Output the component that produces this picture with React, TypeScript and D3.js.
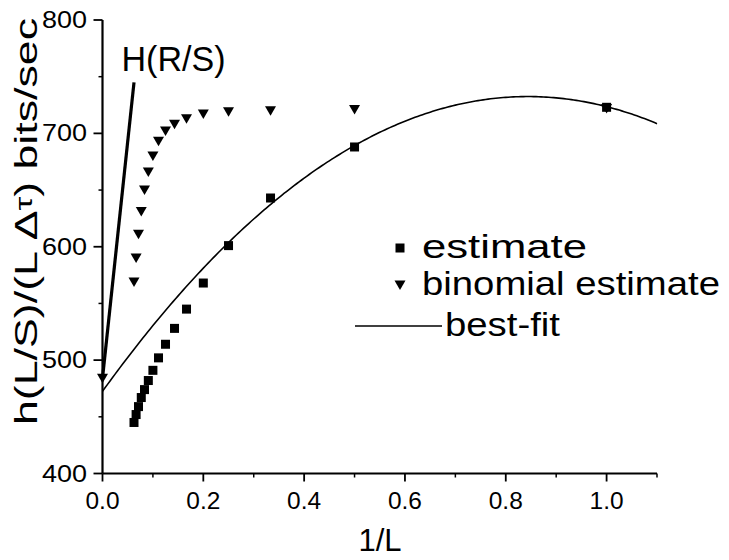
import React from "react";
import * as d3 from "d3";

// Block lengths L; points are plotted against 1/L
const blockLengths = [1, 2, 3, 4, 5, 6, 7, 8, 9, 10, 11, 12, 13, 14, 15, 16];
// Entropy-rate estimates, bits/sec
const estimate = [723, 688, 643, 601, 568, 545, 528, 514, 502, 491, 482, 474, 467, 459, 452, 445];
const binomialEstimate = [722, 721, 720, 719, 717, 713, 708, 702, 693, 680, 666, 650, 631, 611, 590, 569];
// Extrapolated binomial value at 1/L = 0
const binomialLimitX = [0];
const binomialLimitY = [484];
// H(R/S) reference line
const hrsX = [0, 0.0625];
const hrsY = [484, 745];
// Quadratic best fit: c0 + c1*x + c2*x^2
const fitCoefficients = [472.5, 616.0, -364.9];

const xMajorTicks = [0, 0.2, 0.4, 0.6, 0.8, 1.0];
const xMinorTicks = [0.1, 0.3, 0.5, 0.7, 0.9, 1.1];
const yMajorTicks = [400, 500, 600, 700, 800];
const yMinorTicks = [450, 550, 650, 750];

const FONT = "'Liberation Sans', Arial, Helvetica, sans-serif";

export default function App() {
  const W = 729;
  const H = 560;
  const x = d3.scaleLinear().domain([0, 1.1]).range([102.5, 657]);
  const y = d3.scaleLinear().domain([400, 800]).range([473.5, 20]);

  const fitX = d3.range(0, 1.1001, 0.005);
  const fitLine = d3
    .line<number>()
    .x((d) => x(d))
    .y((d) => y(fitCoefficients[0] + fitCoefficients[1] * d + fitCoefficients[2] * d * d));

  const hrsLine = d3
    .line<number>()
    .x((d, i) => x(hrsX[i]))
    .y((d) => y(d));

  const fmtX = d3.format(".1f");
  const fmtY = d3.format("d");

  const tri = "M-5.5,-4.5 L5.5,-4.5 L0,5 Z";
  const sq = 9;

  const triPoints = [
    ...blockLengths.map((L, i) => ({ x: 1 / L, v: binomialEstimate[i] })),
    ...binomialLimitX.map((v, i) => ({ x: v, v: binomialLimitY[i] })),
  ];

  return (
    <svg
      width={W}
      height={H}
      viewBox={`0 0 ${W} ${H}`}
      style={{ position: "absolute", left: 0, top: 0, display: "block", background: "#fff" }}
      fontFamily={FONT}
    >
      <rect x={0} y={0} width={W} height={H} fill="#fff" />

      {/* best-fit curve */}
      <path d={fitLine(fitX) || ""} fill="none" stroke="#000" strokeWidth={1.6} />

      {/* H(R/S) line */}
      <path d={hrsLine(hrsY) || ""} fill="none" stroke="#000" strokeWidth={3.2} />
      <text x={121.5} y={71} fontSize={35} textLength={104} lengthAdjust="spacingAndGlyphs" fill="#000">
        H(R/S)
      </text>

      {/* estimate squares */}
      {blockLengths.map((L, i) => (
        <rect
          key={`s${i}`}
          x={x(1 / L) - sq / 2}
          y={y(estimate[i]) - sq / 2}
          width={sq}
          height={sq}
          fill="#000"
        />
      ))}

      {/* binomial estimate triangles */}
      {triPoints.map((p, i) => (
        <path key={`t${i}`} d={tri} transform={`translate(${x(p.x)},${y(p.v)})`} fill="#000" />
      ))}

      {/* axes */}
      <line x1={x(0)} x2={x(1.1)} y1={y(400)} y2={y(400)} stroke="#000" strokeWidth={2.2} />
      <line x1={x(0)} x2={x(0)} y1={y(400)} y2={y(800)} stroke="#000" strokeWidth={2.2} />

      {xMajorTicks.map((t) => (
        <g key={`xm${t}`}>
          <line x1={x(t)} x2={x(t)} y1={y(400)} y2={y(400) + 8} stroke="#000" strokeWidth={1.8} />
          <text
            x={x(t)}
            y={509}
            fontSize={23}
            textAnchor="middle"
            textLength={34}
            lengthAdjust="spacingAndGlyphs"
            fill="#000"
          >
            {fmtX(t)}
          </text>
        </g>
      ))}
      {xMinorTicks.map((t) => (
        <line key={`xn${t}`} x1={x(t)} x2={x(t)} y1={y(400)} y2={y(400) + 4} stroke="#000" strokeWidth={1.5} />
      ))}

      {yMajorTicks.map((t) => (
        <g key={`ym${t}`}>
          <line x1={x(0) - 9} x2={x(0)} y1={y(t)} y2={y(t)} stroke="#000" strokeWidth={1.8} />
          <text
            x={87}
            y={y(t) + 8}
            fontSize={23}
            textAnchor="end"
            textLength={45}
            lengthAdjust="spacingAndGlyphs"
            fill="#000"
          >
            {fmtY(t)}
          </text>
        </g>
      ))}
      {yMinorTicks.map((t) => (
        <line key={`yn${t}`} x1={x(0) - 4} x2={x(0)} y1={y(t)} y2={y(t)} stroke="#000" strokeWidth={1.5} />
      ))}

      {/* axis titles */}
      <text x={380} y={551} fontSize={31} textAnchor="middle" fill="#000">
        1/L
      </text>
      <text
        transform="translate(37,425) rotate(-90)"
        x={0}
        y={0}
        fontSize={31}
        textLength={407}
        lengthAdjust="spacingAndGlyphs"
        fill="#000"
      >
        h(L/S)/(L Δ<tspan fontSize={24} dy={-5}>τ</tspan>
        <tspan dy={5}>)  bits/sec</tspan>
      </text>

      {/* legend */}
      <rect x={400 - sq / 2} y={248 - sq / 2} width={sq} height={sq} fill="#000" />
      <text x={422} y={258} fontSize={34} textLength={165} lengthAdjust="spacingAndGlyphs" fill="#000">
        estimate
      </text>
      <path d={tri} transform="translate(400,285)" fill="#000" />
      <text x={422} y={295} fontSize={34} textLength={298} lengthAdjust="spacingAndGlyphs" fill="#000">
        binomial estimate
      </text>
      <line x1={355} x2={442} y1={326} y2={326} stroke="#000" strokeWidth={1.6} />
      <text x={445} y={336} fontSize={34} textLength={115} lengthAdjust="spacingAndGlyphs" fill="#000">
        best-fit
      </text>
    </svg>
  );
}
